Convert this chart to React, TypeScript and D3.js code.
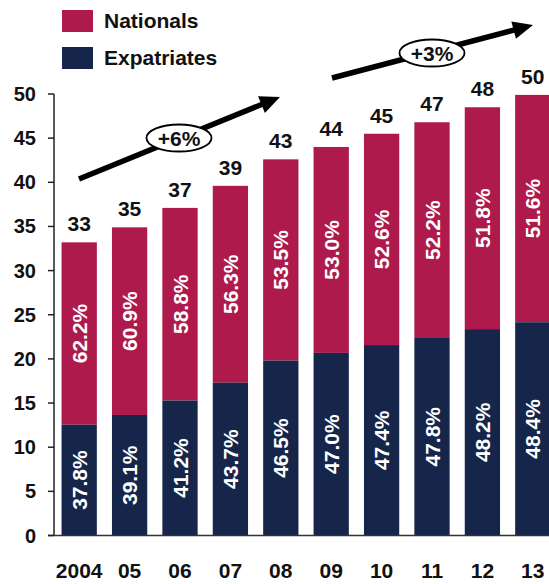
import React from "react";
import * as d3 from "d3";

const years = ["2004", "05", "06", "07", "08", "09", "10", "11", "12", "13"];
const totals = [33.2, 34.9, 37.1, 39.6, 42.6, 44.0, 45.5, 46.8, 48.5, 49.9];
const totalLabels = ["33", "35", "37", "39", "43", "44", "45", "47", "48", "50"];
const expatPct = [37.8, 39.1, 41.2, 43.7, 46.5, 47.0, 47.4, 47.8, 48.2, 48.4];
const nationalPct = [62.2, 60.9, 58.8, 56.3, 53.5, 53.0, 52.6, 52.2, 51.8, 51.6];
const yTicks = [0, 5, 10, 15, 20, 25, 30, 35, 40, 45, 50];
const legendItems = ["Nationals", "Expatriates"];
const growthLabels = ["+6%", "+3%"];

const W = 549;
const H = 584;
const NAT = "#AD1A4B";
const EXP = "#16264A";
const FONT = "'Liberation Sans', Arial, sans-serif";

export default function App() {
  const x = d3.scaleBand<string>().domain(years).range([54, 558]).paddingInner(0.3).paddingOuter(0.15);
  const y = d3.scaleLinear().domain([0, 50]).range([535.5, 94]);
  const bw = x.bandwidth();

  const arrows = [
    { x1: 79, y1: 179, x2: 280, y2: 97, cx: 179, cy: 138, label: growthLabels[0] },
    { x1: 332, y1: 78, x2: 533, y2: 25, cx: 432, cy: 53, label: growthLabels[1] },
  ];

  const head = (a: any) => {
    const dx = a.x2 - a.x1, dy = a.y2 - a.y1;
    const L = Math.hypot(dx, dy);
    const ux = dx / L, uy = dy / L;
    const px = -uy, py = ux;
    const bx = a.x2 - ux * 20, by = a.y2 - uy * 20;
    return `${a.x2},${a.y2} ${bx + px * 9},${by + py * 9} ${bx - px * 9},${by - py * 9}`;
  };

  return (
    <div style={{ position: "absolute", left: 0, top: 0 }}>
      <svg width={W} height={H} style={{ display: "block", background: "#fff" }} fontFamily={FONT}>
        {/* legend */}
        {legendItems.map((d, i) => (
          <g key={d}>
            <rect x={62} y={10 + i * 37} width={31} height={22} fill={i === 0 ? NAT : EXP} />
            <text x={104} y={28 + i * 37} fontSize={21} fontWeight="bold" fill="#111">{d}</text>
          </g>
        ))}

        {/* bars */}
        {years.map((yr, i) => {
          const t = totals[i];
          const e = (t * expatPct[i]) / 100;
          const bx = x(yr)!;
          const cx = bx + bw / 2;
          const expMid = (y(0) + y(e)) / 2;
          const natMid = (y(e) + y(t)) / 2;
          return (
            <g key={yr}>
              <rect x={bx} y={y(t)} width={bw} height={y(e) - y(t)} fill={NAT} />
              <rect x={bx} y={y(e)} width={bw} height={y(0) - y(e)} fill={EXP} />
              <text x={cx} y={y(t) - 11} textAnchor="middle" fontSize={21} fontWeight="bold" fill="#111">{totalLabels[i]}</text>
              <text transform={`translate(${cx},${natMid}) rotate(-90)`} textAnchor="middle" dominantBaseline="central" fontSize={21} fontWeight="bold" fill="#fff">{nationalPct[i].toFixed(1)}%</text>
              <text transform={`translate(${cx},${expMid}) rotate(-90)`} textAnchor="middle" dominantBaseline="central" fontSize={21} fontWeight="bold" fill="#fff">{expatPct[i].toFixed(1)}%</text>
              <text x={cx} y={578} textAnchor="middle" fontSize={21} fontWeight="bold" fill="#111">{yr}</text>
            </g>
          );
        })}

        {/* y axis */}
        <line x1={54} x2={54} y1={y(50)} y2={y(0)} stroke="#222" strokeWidth={1.5} />
        <line x1={48} x2={W} y1={y(0)} y2={y(0)} stroke="#333" strokeWidth={1.5} />
        {yTicks.map((v) => (
          <g key={v}>
            <line x1={48} x2={54} y1={y(v)} y2={y(v)} stroke="#222" strokeWidth={1.5} />
            <text x={36} y={y(v) + 7} textAnchor="end" fontSize={20} fontWeight="bold" fill="#111">{v}</text>
          </g>
        ))}

        {/* growth arrows */}
        {arrows.map((a, i) => {
          const dx = a.x2 - a.x1, dy = a.y2 - a.y1;
          const L = Math.hypot(dx, dy);
          return (
            <g key={i}>
              <line x1={a.x1} y1={a.y1} x2={a.x2 - (dx / L) * 16} y2={a.y2 - (dy / L) * 16} stroke="#000" strokeWidth={5.5} />
              <polygon points={head(a)} fill="#000" />
              <ellipse cx={a.cx} cy={a.cy} rx={32.5} ry={13.5} fill="#fff" stroke="#000" strokeWidth={1.8} />
              <text x={a.cx} y={a.cy + 7.5} textAnchor="middle" fontSize={21} fontWeight="bold" fill="#111">{a.label}</text>
            </g>
          );
        })}
      </svg>
    </div>
  );
}
